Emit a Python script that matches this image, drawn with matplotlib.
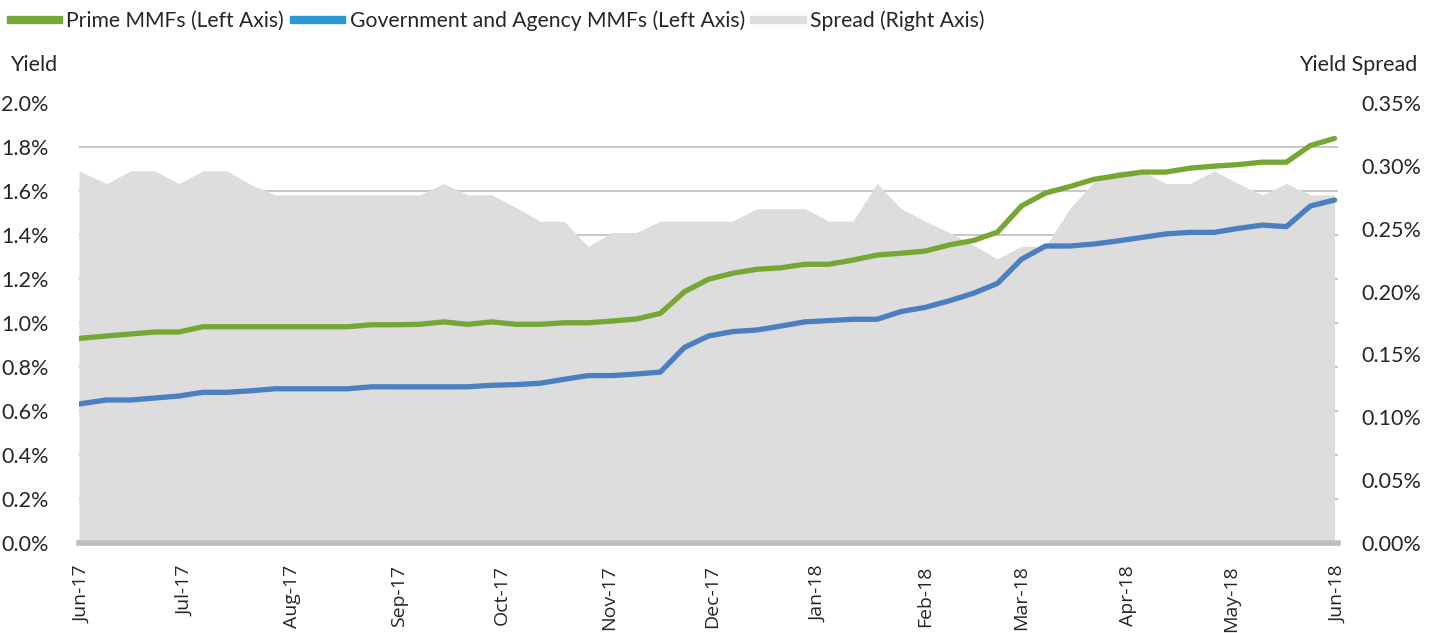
import matplotlib
matplotlib.use("Agg")
import matplotlib.pyplot as plt
import matplotlib.dates as mdates
from matplotlib.lines import Line2D
from matplotlib.ticker import MultipleLocator, FuncFormatter
import pandas as pd

# fechas semanales (primer punto a fin de mayo, luego semanal)
fechas = [pd.Timestamp("2017-05-31")] + list(pd.date_range("2017-06-08", periods=52, freq="7D"))

# rendimientos (%)
prime = [0.930, 0.941, 0.950, 0.959, 0.959, 0.983, 0.983, 0.983, 0.983, 0.983,
         0.983, 0.983, 0.992, 0.992, 0.994, 1.005, 0.994, 1.005, 0.994, 0.994,
         1.001, 1.001, 1.009, 1.018, 1.044, 1.142, 1.199, 1.226, 1.244, 1.251,
         1.267, 1.267, 1.286, 1.309, 1.317, 1.327, 1.355, 1.375, 1.413, 1.532,
         1.591, 1.620, 1.653, 1.670, 1.686, 1.686, 1.704, 1.713, 1.720, 1.731,
         1.731, 1.807, 1.839]

gobierno = [0.632, 0.650, 0.650, 0.659, 0.668, 0.685, 0.685, 0.692, 0.701, 0.701,
            0.701, 0.701, 0.710, 0.710, 0.710, 0.710, 0.710, 0.717, 0.720, 0.726,
            0.744, 0.761, 0.761, 0.768, 0.777, 0.889, 0.941, 0.961, 0.968, 0.986,
            1.005, 1.011, 1.017, 1.017, 1.052, 1.071, 1.101, 1.135, 1.180, 1.290,
            1.350, 1.350, 1.359, 1.373, 1.389, 1.405, 1.412, 1.412, 1.430, 1.445,
            1.438, 1.532, 1.559]

spread = [0.296, 0.286, 0.296, 0.296, 0.286, 0.296, 0.296, 0.285, 0.277, 0.277,
          0.277, 0.277, 0.277, 0.277, 0.277, 0.286, 0.277, 0.277, 0.267, 0.256,
          0.256, 0.236, 0.247, 0.247, 0.256, 0.256, 0.256, 0.256, 0.266, 0.266,
          0.266, 0.256, 0.256, 0.286, 0.266, 0.256, 0.247, 0.237, 0.226, 0.236,
          0.236, 0.266, 0.287, 0.296, 0.296, 0.286, 0.286, 0.296, 0.286, 0.277,
          0.286, 0.277, 0.277]

etiquetas = ["Prime MMFs (Left Axis)", "Government and Agency MMFs (Left Axis)", "Spread (Right Axis)"]

VERDE = "#76A633"
AZUL = "#4A7FC1"
AZUL_LEYENDA = "#2A99D1"
GRIS = "#DCDDDC"
TEXTO = "#262626"

plt.rcParams["font.family"] = ["Lato", "DejaVu Sans"]
plt.rcParams["text.color"] = TEXTO

fig = plt.figure(figsize=(14.37, 6.33), dpi=100)
ax = fig.add_axes([79 / 1437, 1 - 543 / 633, (1338 - 79) / 1437, 440 / 633])
ax2 = ax.twinx()

# eje derecho: area del spread + cuadricula (queda debajo)
ax2.set_zorder(1)
ax.set_zorder(2)
ax.patch.set_visible(False)

ax2.fill_between(fechas, 0, spread, color=GRIS, linewidth=0)
ax2.set_ylim(0, 0.35)
ax2.yaxis.set_major_locator(MultipleLocator(0.05))
ax2.yaxis.set_minor_locator(MultipleLocator(0.035))
ax2.yaxis.set_major_formatter(FuncFormatter(lambda v, p: f"{v:.2f}%"))
ax2.set_axisbelow(True)
ax2.grid(True, which="minor", axis="y", color="#C8C8C8", linewidth=1.5)
ax2.tick_params(axis="y", which="both", length=0, pad=17, labelsize=15.5, labelcolor=TEXTO)

# eje izquierdo: lineas
ax.plot(fechas, prime, color=VERDE, linewidth=3.8, solid_capstyle="round", solid_joinstyle="round")
ax.plot(fechas, gobierno, color=AZUL, linewidth=3.8, solid_capstyle="round", solid_joinstyle="round")
ax.set_ylim(0, 2.0)
ax.yaxis.set_major_locator(MultipleLocator(0.2))
ax.yaxis.set_major_formatter(FuncFormatter(lambda v, p: f"{v:.1f}%"))
ax.tick_params(axis="y", length=0, pad=22, labelsize=15.5, labelcolor=TEXTO)

ax.set_xlim(fechas[0], pd.Timestamp("2018-06-01"))
ax.xaxis.set_major_locator(mdates.MonthLocator())
ax.xaxis.set_major_formatter(mdates.DateFormatter("%b-%y"))
ax.tick_params(axis="x", length=0, pad=16, labelsize=14)
for t in ax.get_xticklabels():
    t.set_rotation(90)
    t.set_fontfamily(["Open Sans", "DejaVu Sans"])
    t.set_color(TEXTO)

for a in (ax, ax2):
    for lado in ("top", "left", "right", "bottom"):
        a.spines[lado].set_visible(False)
ax.spines["bottom"].set_visible(True)
ax.spines["bottom"].set_color("#BDBDBD")
ax.spines["bottom"].set_linewidth(4)

fig.text(10 / 1437, 1 - 65 / 633, "Yield", fontsize=15.5, va="center", ha="left")
fig.text(1417 / 1437, 1 - 65 / 633, "Yield Spread", fontsize=15.5, va="center", ha="right")

manejadores = [
    Line2D([0], [0], color=VERDE, linewidth=6),
    Line2D([0], [0], color=AZUL_LEYENDA, linewidth=6),
    Line2D([0], [0], color=GRIS, linewidth=6),
]
fig.legend(manejadores, etiquetas, loc="upper left", bbox_to_anchor=(0.0, 1.0), ncol=3,
           frameon=False, fontsize=15.2, handlelength=2.3, handletextpad=0.35,
           columnspacing=0.45, borderaxespad=0.1)

fig.savefig("out.png", dpi=100)
